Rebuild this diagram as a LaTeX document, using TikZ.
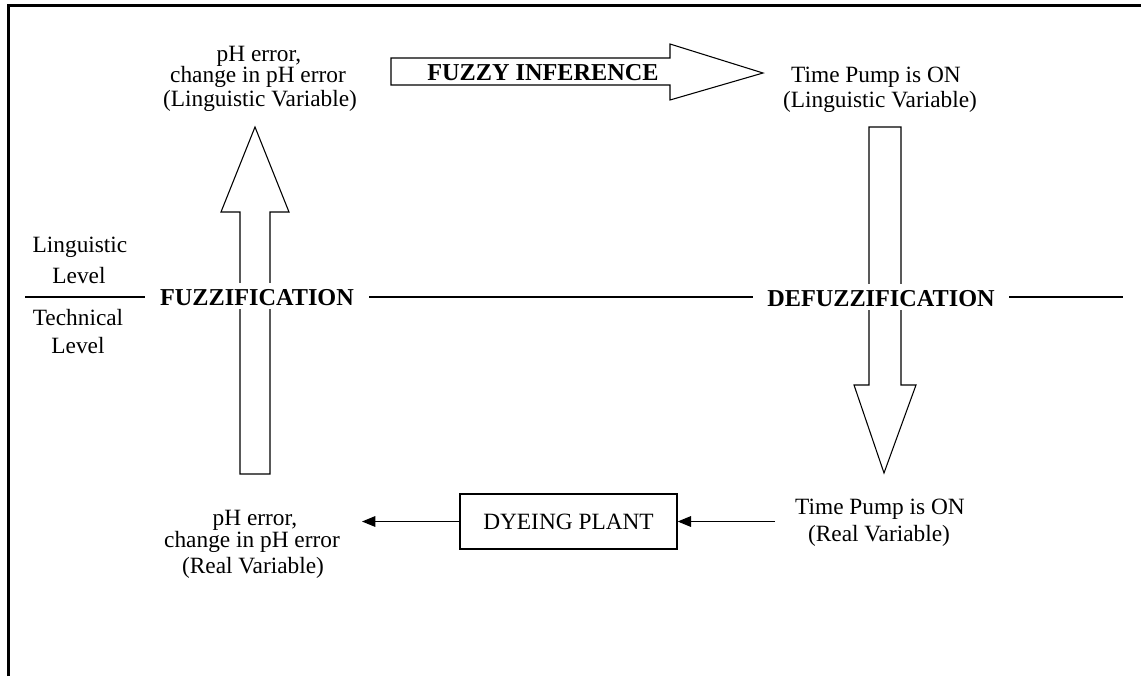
\documentclass[tikz,border=0pt]{standalone}
\usepackage{fontspec}
\setmainfont{Liberation Serif}
\usetikzlibrary{arrows.meta}
\begin{document}
\begin{tikzpicture}[x=0.75pt,y=-0.75pt,
  txt/.style={anchor=base,inner sep=0pt,font=\fontsize{17.5}{21}\selectfont},
  stage/.style={anchor=base,fill=white,inner xsep=11pt,inner ysep=0pt,
    text height=16.5pt,text depth=3pt,font=\fontsize{18.2}{22}\selectfont\bfseries},
  blockarrow/.style={draw,line width=0.8pt,line join=miter},
  plantbox/.style={draw,line width=1pt,minimum width=162.75pt,minimum height=41.25pt,
    inner sep=0pt,font=\fontsize{17.5}{21}\selectfont},
  flow/.style={draw,line width=0.8pt,-{Triangle[length=10pt,width=8pt]}},
  divider/.style={line width=0.8pt}]

\useasboundingbox (0,0) rectangle (1141,676);

% frame edges (top and left)
\draw[line width=2.25pt,line join=miter] (8,676) -- (8,5.5) -- (1141,5.5);

% boundary between the linguistic and the technical level
\coordinate (divstart) at (25,297);
\coordinate (divend) at (1123,297);
\draw[divider] (divstart) -- (divend);

% fuzzification: upward block arrow
\draw[blockarrow] (240,474) -- (240,212) -- (221,212) -- (255,127) -- (289,212)
  -- (270,212) -- (270,474) -- cycle;

% defuzzification: downward block arrow
\draw[blockarrow] (869,127) -- (869,385) -- (854,385) -- (884,473) -- (916,385)
  -- (901,385) -- (901,127) -- cycle;

% fuzzy inference: rightward block arrow
\draw[blockarrow] (391,58) -- (670,58) -- (670,44) -- (763,73) -- (670,100)
  -- (670,85) -- (391,85) -- cycle;
\node[txt,font=\fontsize{18.2}{22}\selectfont\bfseries] (infer) at (543,80) {FUZZY INFERENCE};

% stage labels on the level boundary
\node[stage] (fuzz) at (257,305) {FUZZIFICATION};
\node[stage] (defuzz) at (881,306) {DEFUZZIFICATION};

% level names
\node[txt] (ling1) at (80,252) {Linguistic};
\node[txt] (ling2) at (79,283) {Level};
\node[txt] (tech1) at (78,325) {Technical};
\node[txt] (tech2) at (78,353) {Level};

% linguistic inputs
\node[txt] (lin1) at (259,61) {pH error,};
\node[txt] (lin2) at (258,82) {change in pH error};
\node[txt] (lin3) at (260,106) {(Linguistic Variable)};

% linguistic output
\node[txt] (lout1) at (876,82) {Time Pump is ON};
\node[txt] (lout2) at (880,107) {(Linguistic Variable)};

% real output
\node[txt] (rout1) at (880,514) {Time Pump is ON};
\node[txt] (rout2) at (879,541) {(Real Variable)};

% real inputs
\node[txt] (rin1) at (255,525) {pH error,};
\node[txt] (rin2) at (252,547) {change in pH error};
\node[txt] (rin3) at (253,573) {(Real Variable)};

% process
\node[plantbox] (plant) at (568.5,521.5) {DYEING PLANT};
\coordinate (pumpin) at (775,521.5);
\coordinate (pherr) at (362,521.5);
\draw[flow] (pumpin) -- (plant.east);
\draw[flow] (plant.west) -- (pherr);

\end{tikzpicture}
\end{document}
